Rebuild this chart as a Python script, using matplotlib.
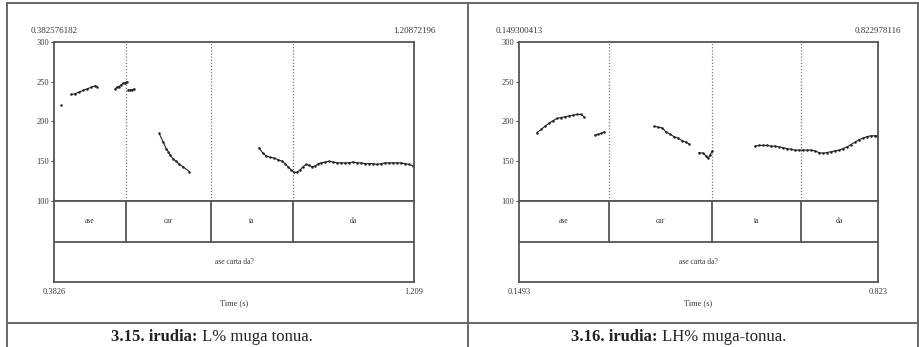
import matplotlib
matplotlib.use("Agg")
import matplotlib.pyplot as plt
from matplotlib.lines import Line2D

# ---- panel 3.15 (L%) ----
l_xmin, l_xmax = 0.382576182, 1.20872196
l_bounds = [0.548, 0.743, 0.931]
l_words = ["ase", "car", "ta", "da"]
l_phrase = "ase carta da?"
l_segments_t = [
    [0.399],
    [0.422, 0.431, 0.440, 0.449, 0.458, 0.468, 0.477, 0.481],
    [0.523, 0.527, 0.532, 0.536, 0.541, 0.546, 0.550],
    [0.553, 0.557, 0.562, 0.566],
    [0.624, 0.633, 0.640, 0.645, 0.649, 0.656, 0.663, 0.670, 0.679, 0.693],
    [0.853, 0.862, 0.869, 0.878, 0.888, 0.897, 0.906, 0.913, 0.920, 0.927,
     0.934, 0.940, 0.947, 0.954, 0.961, 0.968, 0.975, 0.982, 0.989, 0.996,
     1.005, 1.014, 1.023, 1.032, 1.041, 1.051, 1.060, 1.069, 1.078, 1.087,
     1.097, 1.106, 1.115, 1.124, 1.133, 1.142, 1.152, 1.161, 1.170, 1.179,
     1.188, 1.198, 1.207],
]
l_segments_f = [
    [221],
    [234, 235, 237, 239, 241, 243, 245, 244],
    [241, 243, 244, 246, 248, 249, 250],
    [239, 240, 240, 241],
    [185, 174, 166, 162, 158, 153, 150, 146, 143, 137],
    [167, 160, 157, 155, 154, 152, 150, 147, 143, 139,
     136, 136, 139, 143, 146, 145, 143, 144, 147, 148,
     149, 150, 149, 148, 148, 148, 148, 149, 148, 148,
     147, 147, 147, 146, 147, 148, 148, 148, 148, 148,
     147, 146, 144],
]
l_bottom = ["0.3826", "1.209"]
l_caption = ("3.15. irudia:", " L% muga tonua.")

# ---- panel 3.16 (LH%) ----
r_xmin, r_xmax = 0.149300413, 0.822978116
r_bounds = [0.318, 0.512, 0.679]
r_words = ["ase", "car", "ta", "da"]
r_phrase = "ase carta da?"
r_segments_t = [
    [0.183, 0.191, 0.198, 0.206, 0.213, 0.221, 0.228, 0.236, 0.243, 0.251,
     0.258, 0.266, 0.271],
    [0.292, 0.298, 0.303, 0.309],
    [0.403, 0.410, 0.418, 0.425, 0.433, 0.440, 0.448, 0.455, 0.463, 0.468],
    [0.487, 0.495, 0.500, 0.504, 0.508, 0.512],
    [0.592, 0.600, 0.607, 0.615, 0.622, 0.630, 0.637, 0.645, 0.652, 0.660,
     0.667, 0.675, 0.682, 0.690, 0.697, 0.705, 0.712, 0.720, 0.727, 0.735,
     0.742, 0.750, 0.757, 0.765, 0.772, 0.780, 0.787, 0.795, 0.802, 0.810,
     0.817, 0.821],
]
r_segments_f = [
    [186, 190, 194, 198, 201, 204, 205, 206, 207, 208, 209, 209, 206],
    [183, 184, 185, 187],
    [194, 193, 192, 187, 184, 181, 179, 176, 174, 172],
    [161, 160, 157, 154, 158, 163],
    [169, 170, 170, 170, 169, 169, 168, 167, 166, 165,
     164, 164, 164, 164, 164, 163, 161, 160, 161, 162,
     163, 164, 166, 168, 171, 174, 177, 179, 181, 182,
     182, 182],
]
r_bottom = ["0.1493", "0.823"]
r_caption = ("3.16. irudia:", " LH% muga-tonua.")

yticks = [100, 150, 200, 250, 300]

W, H = 920, 347
SERIF = "Liberation Serif"
TXT = "#3a3a3a"
LINE = "#555555"


def rect(x0, y0, x1, y1):
    return [x0 / W, 1 - y1 / H, (x1 - x0) / W, (y1 - y0) / H]


def draw_panel(fig, x0, x1, xmin, xmax, bounds, words, phrase, seg_t, seg_f, bottom):
    ax = fig.add_axes(rect(x0, 42, x1, 201))
    tier = fig.add_axes(rect(x0, 201, x1, 282))
    for a in (ax, tier):
        a.set_xlim(xmin, xmax)
        for s in a.spines.values():
            s.set_linewidth(1.3)
            s.set_color(LINE)
        a.set_xticks([])
    ax.set_ylim(100, 300)
    ax.set_yticks(yticks)
    ax.set_yticklabels([str(v) for v in yticks], fontsize=6, family=SERIF, color=TXT)
    ax.tick_params(axis="y", length=2.5, width=0.8, color=LINE, pad=1)
    for b in bounds:
        ax.axvline(b, color="#777777", lw=0.9, ls=(0, (1, 1.5)))
    for t, f in zip(seg_t, seg_f):
        ax.plot(t, f, color="#222222", lw=0.8, marker="o", ms=1.8, mec="none")

    tier.set_ylim(0, 2)
    tier.set_yticks([])
    tier.axhline(1, color=LINE, lw=1.3)
    edges = [xmin] + bounds + [xmax]
    for b in bounds:
        tier.plot([b, b], [1, 2], color=LINE, lw=1.3)
    for i, w in enumerate(words):
        tier.text((edges[i] + edges[i + 1]) / 2, 1.5, w, ha="center", va="center",
                  fontsize=5.5, family=SERIF, color=TXT)
    tier.text((xmin + xmax) / 2, 0.5, phrase, ha="center", va="center",
              fontsize=5.5, family=SERIF, color=TXT)

    ax.annotate(f"{xmin:.9g}", (0, 1), xycoords="axes fraction", xytext=(0, 8),
                textcoords="offset points", ha="center", va="center",
                fontsize=6.5, family=SERIF, color=TXT)
    ax.annotate(f"{xmax:.9g}", (1, 1), xycoords="axes fraction", xytext=(0, 8),
                textcoords="offset points", ha="center", va="center",
                fontsize=6.5, family=SERIF, color=TXT)
    tier.annotate(bottom[0], (0, 0), xycoords="axes fraction", xytext=(0, -7),
                  textcoords="offset points", ha="center", va="center",
                  fontsize=6, family=SERIF, color=TXT)
    tier.annotate(bottom[1], (1, 0), xycoords="axes fraction", xytext=(0, -7),
                  textcoords="offset points", ha="center", va="center",
                  fontsize=6, family=SERIF, color=TXT)
    tier.annotate("Time (s)", (0.5, 0), xycoords="axes fraction", xytext=(0, -15),
                  textcoords="offset points", ha="center", va="center",
                  fontsize=6, family=SERIF, color=TXT)


fig = plt.figure(figsize=(W / 100, H / 100), dpi=100)
fig.patch.set_facecolor("white")

draw_panel(fig, 54, 414, l_xmin, l_xmax, l_bounds, l_words, l_phrase,
           l_segments_t, l_segments_f, l_bottom)
draw_panel(fig, 519, 878, r_xmin, r_xmax, r_bounds, r_words, r_phrase,
           r_segments_t, r_segments_f, r_bottom)

# table frame around the two figures
frame = [
    ((7, 918), (3, 3)),
    ((7, 918), (323, 323)),
    ((7, 7), (3, 347)),
    ((468, 468), (3, 347)),
    ((918, 918), (3, 347)),
]
for xs, ys in frame:
    fig.add_artist(Line2D([x / W for x in xs], [1 - y / H for y in ys],
                          color="#666666", lw=1.4))

# captions: bold label + regular text
for split_x, (bold, rest) in ((198, l_caption), (658, r_caption)):
    fig.text(split_x / W, 1 - 337 / H, bold, ha="right", va="center",
             fontsize=12, family=SERIF, weight="bold", color="#222222")
    fig.text(split_x / W, 1 - 337 / H, rest, ha="left", va="center",
             fontsize=12, family=SERIF, color="#222222")

fig.savefig("out.png", dpi=100)
plt.close(fig)
